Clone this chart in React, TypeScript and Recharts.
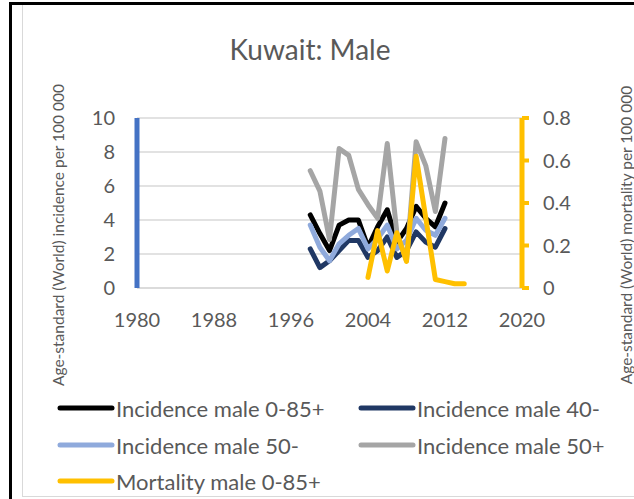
import React from 'react';
import { LineChart, Line, XAxis, YAxis, CartesianGrid, Legend, Customized } from 'recharts';

const years = [1998, 1999, 2000, 2001, 2002, 2003, 2004, 2005, 2006, 2007, 2008, 2009, 2010, 2011, 2012, 2013, 2014];
const incidenceAll = [4.3, 3.2, 2.2, 3.7, 4.0, 4.0, 2.4, 3.6, 4.6, 2.7, 3.5, 4.8, 4.1, 3.6, 5.0, null, null];
const incidence40 = [2.3, 1.2, 1.6, 2.2, 2.8, 2.8, 1.8, 2.2, 3.0, 1.8, 2.2, 3.3, 2.7, 2.4, 3.5, null, null];
const incidence50minus = [3.7, 2.4, 1.6, 2.6, 3.1, 3.5, 2.3, 2.9, 3.7, 2.3, 2.8, 4.1, 3.4, 3.1, 4.1, null, null];
const incidence50plus = [6.9, 5.7, 2.85, 8.2, 7.8, 5.8, 4.9, 4.1, 8.5, 3.25, 1.6, 8.6, 7.2, 4.5, 8.8, null, null];
const mortalityAll = [null, null, null, null, null, null, 0.05, 0.27, 0.08, 0.26, 0.125, 0.62, null, 0.04, 0.03, 0.02, 0.02];

const xTicks = [1980, 1988, 1996, 2004, 2012, 2020];
const leftTicks = [0, 2, 4, 6, 8, 10];
const rightTicks = [0, 0.2, 0.4, 0.6, 0.8];

const title = 'Kuwait: Male';
const leftTitle = 'Age-standard (World) incidence per 100 000';
const rightTitle = 'Age-standard (World) mortality per 100 000';

const series = [
  { key: 'incAll', name: 'Incidence male 0-85+', color: '#000000', axis: 'left' },
  { key: 'inc40', name: 'Incidence male 40-', color: '#203864', axis: 'left' },
  { key: 'inc50m', name: 'Incidence male 50-', color: '#8FAADC', axis: 'left' },
  { key: 'inc50p', name: 'Incidence male 50+', color: '#A5A5A5', axis: 'left' },
  { key: 'mort', name: 'Mortality male 0-85+', color: '#FFC000', axis: 'right' },
];

const data = years.map((year, i) => ({
  year,
  incAll: incidenceAll[i],
  inc40: incidence40[i],
  inc50m: incidence50minus[i],
  inc50p: incidence50plus[i],
  mort: mortalityAll[i],
}));

const FONT = 'Lato, "Open Sans", sans-serif';
const TEXT = '#595959';

const Decor = () => (
  <g>
    <line x1={10.5} y1={3} x2={10.5} y2={499} stroke="#000" strokeWidth={3} />
    <line x1={9} y1={3.5} x2={634} y2={3.5} stroke="#000" strokeWidth={3} />
    <line x1={22.5} y1={5} x2={22.5} y2={497} stroke="#d9d9d9" strokeWidth={1} />
    <line x1={22} y1={496.5} x2={634} y2={496.5} stroke="#d9d9d9" strokeWidth={1} />
    <text x={310} y={60} textAnchor="middle" fontSize={28} fill={TEXT} fontFamily={FONT}>{title}</text>
    <text x={58} y={235} textAnchor="middle" dominantBaseline="central" fontSize={15.5} fill={TEXT} fontFamily={FONT} transform="rotate(-90 58 235)">{leftTitle}</text>
    <text x={626} y={235} textAnchor="middle" dominantBaseline="central" fontSize={15.5} fill={TEXT} fontFamily={FONT} transform="rotate(-90 626 235)">{rightTitle}</text>
  </g>
);

const legendPos = [
  { x: 57, y: 408 },
  { x: 358, y: 408 },
  { x: 57, y: 445 },
  { x: 358, y: 445 },
  { x: 57, y: 481 },
];

const LegendContent = () => (
  <div style={{ position: 'relative', width: 634, height: 110 }}>
    {series.map((s, i) => (
      <div key={s.key} style={{ position: 'absolute', left: legendPos[i].x, top: legendPos[i].y - 390 - 14, height: 28, display: 'flex', alignItems: 'center', whiteSpace: 'nowrap' }}>
        <svg width={58} height={10} style={{ display: 'block' }}>
          <line x1={3} y1={5} x2={55} y2={5} stroke={s.color} strokeWidth={5} strokeLinecap="round" />
        </svg>
        <span style={{ fontFamily: FONT, fontSize: 22, color: TEXT, marginLeft: 1 }}>{s.name}</span>
      </div>
    ))}
  </div>
);

export default function App() {
  return (
    <div style={{ position: 'absolute', left: 0, top: 0, width: 634, height: 499, background: '#fff' }}>
      <LineChart width={634} height={499} data={data} margin={{ top: 118, right: 0, bottom: 171, left: 0 }}>
        <CartesianGrid vertical={false} stroke="#d9d9d9" strokeWidth={1.5} yAxisId="left" />
        <XAxis
          dataKey="year"
          type="number"
          domain={[1980, 2020]}
          ticks={xTicks}
          allowDataOverflow
          height={40}
          tickLine={false}
          tickSize={0}
          tickMargin={25}
          axisLine={{ stroke: '#d9d9d9', strokeWidth: 1.5 }}
          tick={{ fill: TEXT, fontSize: 20, fontFamily: FONT }}
        />
        <YAxis
          yAxisId="left"
          orientation="left"
          width={137}
          domain={[0, 10]}
          ticks={leftTicks}
          tickLine={false}
          tickSize={0}
          tickMargin={22}
          axisLine={{ stroke: '#4472C4', strokeWidth: 5 }}
          tick={{ fill: TEXT, fontSize: 20, fontFamily: FONT }}
        />
        <YAxis
          yAxisId="right"
          orientation="right"
          width={112}
          domain={[0, 0.8]}
          ticks={rightTicks}
          tickSize={7}
          tickMargin={14}
          tickLine={{ stroke: '#FFC000', strokeWidth: 4 }}
          axisLine={{ stroke: '#FFC000', strokeWidth: 5 }}
          tick={{ fill: TEXT, fontSize: 20, fontFamily: FONT }}
        />
        {series.map((s) => (
          <Line
            key={s.key}
            yAxisId={s.axis}
            dataKey={s.key}
            name={s.name}
            stroke={s.color}
            strokeWidth={5}
            dot={false}
            activeDot={false}
            type="linear"
            connectNulls
            strokeLinejoin="round"
            strokeLinecap="round"
            isAnimationActive={false}
          />
        ))}
        <Legend
          layout="horizontal"
          verticalAlign="middle"
          align="center"
          content={LegendContent}
          wrapperStyle={{ top: 390, left: 0, width: 634, height: 110 }}
        />
        <Customized component={Decor} />
      </LineChart>
    </div>
  );
}
